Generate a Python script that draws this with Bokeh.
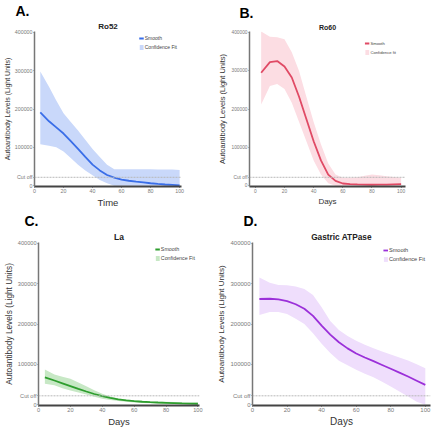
from bokeh.plotting import figure
from bokeh.layouts import column, row
from bokeh.models import (Range1d, FixedTicker, Legend, LegendItem, Title, Span,
                          BasicTickFormatter)
from bokeh.embed import file_html
from bokeh.resources import INLINE

# ---------------- data ----------------
days = [4, 10, 15, 20, 25, 30, 35, 40, 45, 50, 55, 60, 65, 70, 75, 80, 85, 90, 95, 100]
cutoff = 22000
y_ticks = [0, 100000, 200000, 300000, 400000]
x_ticks = [0, 20, 40, 60, 80, 100]

ro52_smooth = [191000, 168000, 152000, 136000, 116000, 96000, 75000, 55000, 40000, 28000,
               21000, 16000, 13000, 10500, 8500, 6500, 4800, 3200, 2000, 800]
ro52_upper = [298000, 258000, 222000, 189000, 166000, 144000, 120000, 96000, 75000, 55000,
              43000, 43000, 43000, 43000, 43000, 43000, 42500, 42000, 42000, 41000]
ro52_lower = [108000, 104000, 100000, 89000, 72000, 55000, 40000, 27000, 15000, 6500,
              0, 0, 0, 0, 0, 0, 0, 0, 0, 0]

ro60_smooth = [294600, 322000, 325000, 311000, 282000, 232000, 174000, 116000, 66000, 29000,
               12500, 5800, 4000, 3300, 2800, 2500, 2800, 3000, 3500, 4000]
ro60_upper = [402000, 388000, 387000, 382000, 348000, 299000, 232000, 166000, 108000, 58000,
              29000, 21000, 21000, 22400, 26000, 29000, 27000, 25000, 23000, 21000]
ro60_lower = [212000, 260000, 265000, 252000, 216000, 166000, 116000, 66000, 29000, 6600,
              0, 0, 0, 0, 0, 0, 0, 0, 0, 0]

la_smooth = [67700, 60000, 53000, 46000, 39000, 32700, 26500, 21000, 16800, 13200,
             10600, 8600, 7300, 6200, 5400, 4700, 3900, 3100, 2700, 2300]
la_upper = [87000, 75000, 69000, 64000, 55000, 46000, 36000, 27000, 20000, 15600,
            13000, 11000, 9500, 8200, 7500, 7000, 6500, 6000, 5700, 5400]
la_lower = [52000, 48000, 41000, 35000, 30000, 25000, 19500, 14800, 11800, 9300,
            7200, 5400, 4400, 3500, 2900, 2300, 1600, 1000, 500, 0]

atp_smooth = [262000, 262600, 261000, 256600, 249000, 237700, 220000, 196000, 173600, 154700,
              139600, 126800, 117000, 108000, 98500, 89000, 79500, 70000, 59500, 49000]
atp_upper = [315000, 302000, 296600, 296000, 293000, 287000, 271700, 241500, 207500, 185000,
             170000, 158500, 148500, 139600, 132000, 124500, 117000, 109400, 100000, 90600]
atp_lower = [222600, 230000, 230000, 225000, 213000, 200000, 177000, 151000, 128000, 109000,
             98000, 86800, 77000, 68000, 57000, 45000, 33000, 20000, 7500, 0]

FONT = "Liberation Sans"


def make_panel(letter, title, xlabel, smooth, upper, lower, line_color, band_color,
               band_label, w, h, borders, xr, letter_off, title_size, ylab_size, xlab_size,
               tick_size, leg_size, leg_margin):
    bl, br, bt, bb = borders
    p = figure(width=w, height=h, output_backend="svg", toolbar_location=None,
               x_range=Range1d(*xr), y_range=Range1d(-2000, 402000),
               min_border_left=bl, min_border_right=br,
               min_border_top=bt, min_border_bottom=bb)
    p.outline_line_color = None
    p.grid.visible = False
    p.background_fill_color = "white"
    p.border_fill_color = "white"

    # outer title: panel letter
    p.title.text = letter
    p.title.text_font = FONT
    p.title.text_font_size = "14px"
    p.title.text_font_style = "bold"
    p.title.align = "left"
    p.title.offset = letter_off
    p.title.standoff = 0
    p.title.text_color = "#000000"
    # inner title: antigen name
    p.add_layout(Title(text=title, align="center", standoff=2,
                       text_font=FONT, text_font_size=title_size, text_font_style="bold",
                       text_color="#222222"), "above")

    band = p.varea(x=days, y1=lower, y2=upper, fill_color=band_color, fill_alpha=1.0)
    p.add_layout(Span(location=cutoff, dimension="width", line_color="#b8b8b8",
                      line_width=1, line_dash="2 1"))
    ln = p.line(x=days, y=smooth, line_color=line_color, line_width=1.8)

    leg = Legend(items=[LegendItem(label="Smooth", renderers=[ln]),
                        LegendItem(label=band_label, renderers=[band])],
                 location="top_right", border_line_color=None,
                 background_fill_alpha=0.0, label_text_font=FONT,
                 label_text_font_size=leg_size, label_text_color="#444444",
                 glyph_width=5, glyph_height=6, label_height=6, label_standoff=1,
                 spacing=3, padding=0, margin=leg_margin)
    p.add_layout(leg)

    p.yaxis.ticker = FixedTicker(ticks=[0, cutoff] + y_ticks[1:])
    p.yaxis.formatter = BasicTickFormatter(use_scientific=False)
    p.yaxis.major_label_overrides = {cutoff: "Cut off"}
    p.xaxis.ticker = FixedTicker(ticks=x_ticks)
    for ax in (p.xaxis, p.yaxis):
        ax.major_label_text_font = FONT
        ax.major_label_text_font_size = tick_size
        ax.major_label_text_color = "#7a7a7a"
        ax.axis_label_text_font = FONT
        ax.axis_label_text_font_style = "normal"
        ax.axis_label_text_color = "#333333"
        ax.major_tick_in = 0
        ax.major_tick_out = 1
        ax.minor_tick_line_color = None
        ax.major_label_standoff = 1
        ax.axis_label_standoff = 1
    p.yaxis.axis_label = "Autoantibody Levels (Light Units)"
    p.yaxis.axis_label_text_font_size = ylab_size
    p.yaxis.axis_line_color = "#777777"
    p.yaxis.axis_line_width = 1.5
    p.yaxis.major_tick_line_color = "#777777"
    p.xaxis.axis_label = xlabel
    p.xaxis.axis_label_text_font_size = xlab_size
    p.xaxis.axis_line_color = "#444444"
    p.xaxis.axis_line_width = 1.8
    p.xaxis.major_tick_line_color = "#444444"
    return p


pa = make_panel("A.", "Ro52", "Time", ro52_smooth, ro52_upper, ro52_lower,
                "#3a6ee8", "#c9d8fa", "Confidence Fit", 214, 210, (28, 33, 24, 22),
                (0, 101.3), -19, "8px", "7px", "9.5px", "5.3px", "5px", 4)
pb = make_panel("B.", "Ro60", "Days", ro60_smooth, ro60_upper, ro60_lower,
                "#e04a65", "#fcdde3", "Confidence fit", 218, 210, (35, 27, 24, 24),
                (-4, 103), -10, "7px", "7.5px", "8px", "4.8px", "4.2px", 9)
pc = make_panel("C.", "La", "Days", la_smooth, la_upper, la_lower,
                "#2e9e2e", "#c7e8c5", "Confidence Fit", 214, 219, (28, 15, 25, 23),
                (0, 101), -14, "8.5px", "8.3px", "9.5px", "5.6px", "5.3px", 4)
pd = make_panel("D.", "Gastric ATPase", "Days", atp_smooth, atp_upper, atp_lower,
                "#9b30d9", "#efdefc", "Confidence Fit", 218, 219, (34, 2, 24, 21),
                (0, 103), -9, "8.3px", "8px", "10px", "6px", "5.6px", 5)

layout = column(row(pa, pb), row(pc, pd))
open("out.html", "w").write(file_html(layout, INLINE))
